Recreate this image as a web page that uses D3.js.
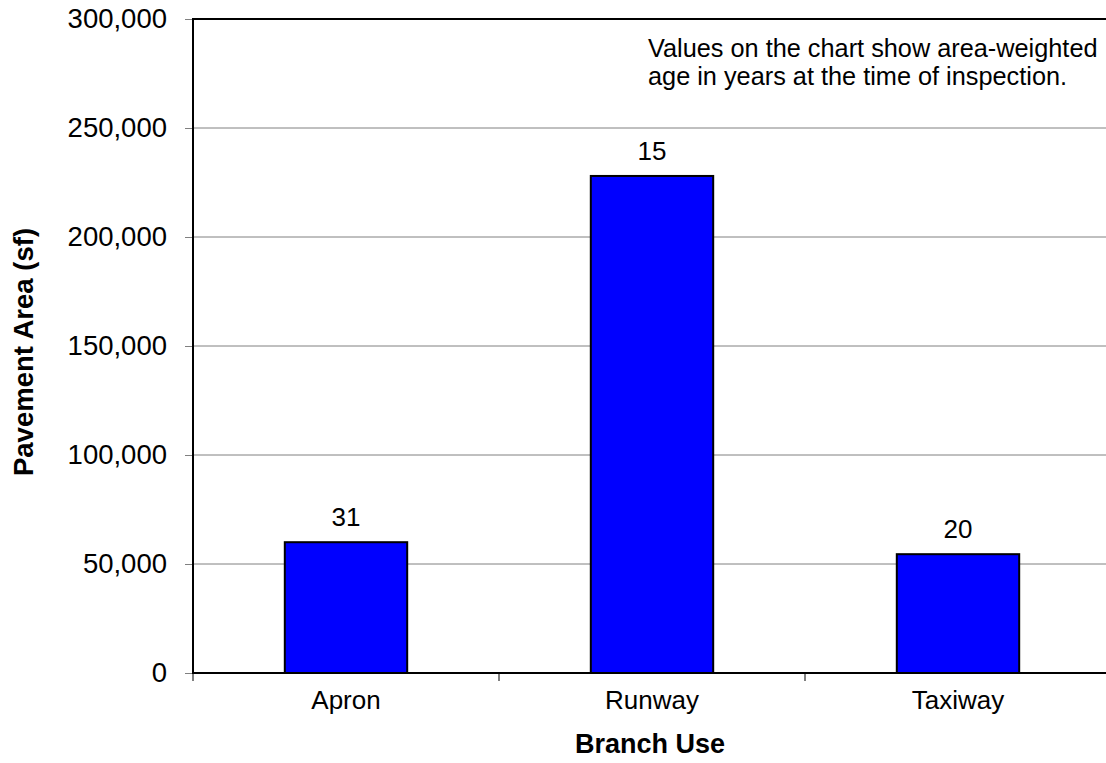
<!DOCTYPE html>
<html>
<head>
<meta charset="utf-8">
<script src="https://cdn.jsdelivr.net/npm/d3@7"></script>
<style>
  html, body { margin: 0; padding: 0; background: #fff; }
  svg { display: block; font-family: "Liberation Sans", Arial, sans-serif; }
</style>
</head>
<body>
<svg id="chart" width="1106" height="763"></svg>
<script>
const categories = ["Apron", "Runway", "Taxiway"];
const areaValues = [60000, 228000, 54500];
const ageLabels = [31, 15, 20];
const yTicks = [0, 50000, 100000, 150000, 200000, 250000, 300000];
const xTitle = "Branch Use";
const yTitle = "Pavement Area (sf)";
const noteLines = ["Values on the chart show area-weighted", "age in years at the time of inspection."];

const svg = d3.select("#chart");
const m = { left: 193, top: 19, right: 1111, bottom: 673 };

const x = d3.scaleBand().domain(categories).range([m.left, m.right]).paddingInner(0.6).paddingOuter(0.3);
const y = d3.scaleLinear().domain([0, 300000]).range([m.bottom, m.top]);

// gridlines
svg.append("g").selectAll("line").data(yTicks.filter(d => d > 0 && d < 300000)).join("line")
  .attr("x1", m.left).attr("x2", m.right)
  .attr("y1", d => y(d)).attr("y2", d => y(d))
  .attr("stroke", "#808080").attr("stroke-width", 1);

// top border
svg.append("line").attr("x1", m.left).attr("x2", m.right).attr("y1", m.top).attr("y2", m.top)
  .attr("stroke", "#000").attr("stroke-width", 2);

// bars
const data = categories.map((c, i) => ({ c, v: areaValues[i], a: ageLabels[i] }));
svg.append("g").selectAll("rect").data(data).join("rect")
  .attr("x", d => x(d.c)).attr("width", x.bandwidth())
  .attr("y", d => y(d.v)).attr("height", d => y(0) - y(d.v))
  .attr("fill", "#0000FF").attr("stroke", "#000").attr("stroke-width", 2);

// bar labels
svg.append("g").selectAll("text").data(data).join("text")
  .attr("x", d => x(d.c) + x.bandwidth() / 2).attr("y", d => y(d.v) - 16)
  .attr("text-anchor", "middle").attr("font-size", 26).attr("fill", "#000")
  .text(d => d.a);

// y axis
const yAxis = d3.axisLeft(y).tickValues(yTicks).tickSize(8).tickPadding(18)
  .tickFormat(d3.format(","));
const gy = svg.append("g").attr("transform", `translate(${m.left},0)`).call(yAxis);
gy.select(".domain").remove();
gy.selectAll(".tick line").attr("stroke", "#808080");
gy.selectAll(".tick text").attr("font-size", 27.5).attr("font-family", "Liberation Sans, Arial, sans-serif").attr("fill", "#000");
svg.append("line").attr("x1", m.left).attr("x2", m.left).attr("y1", m.top - 1).attr("y2", m.bottom + 1)
  .attr("stroke", "#000").attr("stroke-width", 2);

// x axis
const xAxis = d3.axisBottom(x).tickSize(0).tickPadding(18);
const gx = svg.append("g").attr("transform", `translate(0,${m.bottom})`).call(xAxis);
gx.select(".domain").remove();
gx.selectAll(".tick text").attr("font-size", 26).attr("font-family", "Liberation Sans, Arial, sans-serif").attr("fill", "#000");
// category boundary ticks
const bounds = categories.map(c => x(c) - x.step() * 0.3);
svg.append("g").selectAll("line").data(bounds).join("line")
  .attr("x1", d => d).attr("x2", d => d).attr("y1", m.bottom).attr("y2", m.bottom + 8)
  .attr("stroke", "#000").attr("stroke-width", 1);
svg.append("line").attr("x1", m.left - 1).attr("x2", m.right).attr("y1", m.bottom).attr("y2", m.bottom)
  .attr("stroke", "#000").attr("stroke-width", 2);

// axis titles
svg.append("text").attr("x", 650).attr("y", 753)
  .attr("text-anchor", "middle").attr("font-size", 27).attr("font-weight", "bold").text(xTitle);
svg.append("text").attr("transform", `translate(33,352) rotate(-90)`)
  .attr("text-anchor", "middle").attr("font-size", 27.5).attr("font-weight", "bold").text(yTitle);

// note
svg.append("g").selectAll("text").data(noteLines).join("text")
  .attr("x", 648).attr("y", (d, i) => 57 + i * 28)
  .attr("font-size", 25.3).attr("fill", "#000").text(d => d);
</script>
</body>
</html>
